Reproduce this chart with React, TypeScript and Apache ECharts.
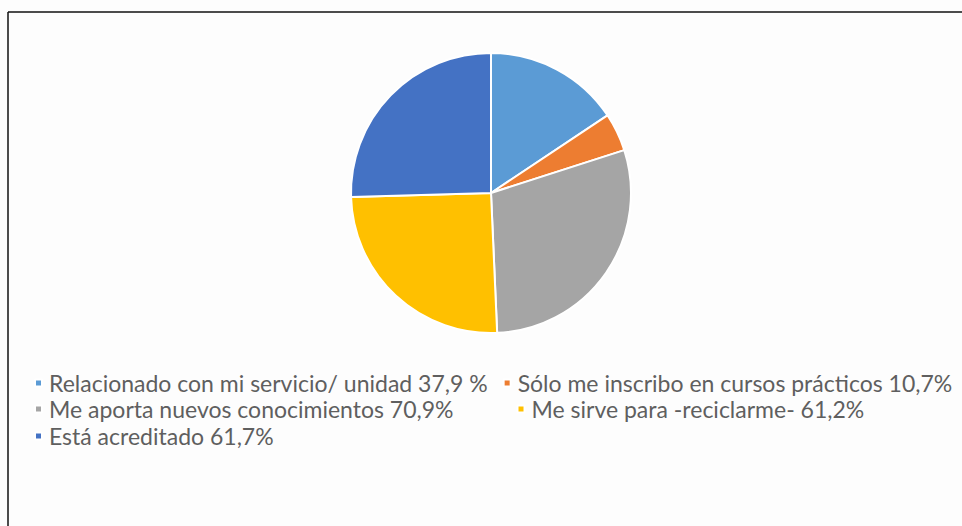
import React, { useEffect, useRef } from "react";
import * as echarts from "echarts";

const categories = [
  "Relacionado con mi servicio/ unidad 37,9 %",
  "Sólo me inscribo en cursos prácticos 10,7%",
  "Me aporta nuevos conocimientos 70,9%",
  "Me sirve para -reciclarme- 61,2%",
  "Está acreditado 61,7%",
];
const values = [37.9, 10.7, 70.9, 61.2, 61.7];
const colors = ["#5B9BD5", "#ED7D31", "#A5A5A5", "#FFC000", "#4472C4"];
const legendRows = [[0, 1], [2, 3], [4]];

export default function App() {
  const ref = useRef<HTMLDivElement>(null);
  useEffect(() => {
    document.body.style.margin = "0";
    const chart = echarts.init(ref.current!, null, { renderer: "svg" });
    const rowTops = [370, 396, 423];
    const gaps = [15, 63, 10];
    chart.setOption({
      animation: false,
      backgroundColor: "#fdfdfd",
      color: colors,
      legend: legendRows.map((row, i) => ({
        data: row.map((k) => categories[k]),
        left: 34,
        top: rowTops[i],
        padding: 0,
        orient: "horizontal",
        icon: "rect",
        itemWidth: 7,
        itemHeight: 7,
        itemGap: gaps[i],
        selectedMode: false,
        textStyle: {
          color: "#5f5f5f",
          fontSize: 23,
          lineHeight: 26,
          fontFamily: "Lato",
          padding: [0, 0, 0, 2],
        },
      })),
      graphic: [
        { type: "line", shape: { x1: 8, y1: 12, x2: 962, y2: 12 }, style: { stroke: "#111", lineWidth: 1.5 } },
        { type: "line", shape: { x1: 8, y1: 12, x2: 8, y2: 526 }, style: { stroke: "#111", lineWidth: 1.5 } },
      ],
      series: [
        {
          type: "pie",
          center: [491, 193],
          radius: 140,
          startAngle: 90,
          clockwise: true,
          label: { show: false },
          labelLine: { show: false },
          itemStyle: { borderColor: "#ffffff", borderWidth: 2 },
          data: categories.map((name, i) => ({ name, value: values[i] })),
        },
      ],
    });
    return () => chart.dispose();
  }, []);
  return <div ref={ref} style={{ width: 962, height: 526 }} />;
}
